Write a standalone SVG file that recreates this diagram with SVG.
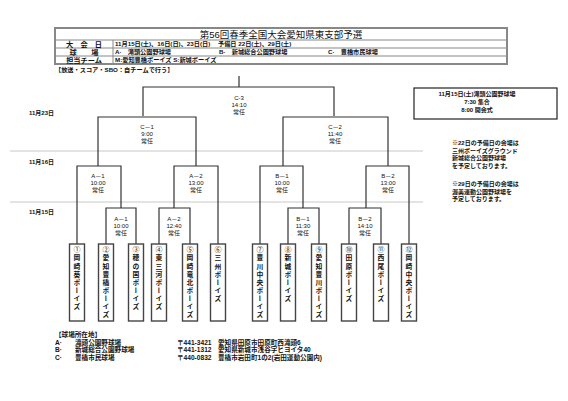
<svg xmlns="http://www.w3.org/2000/svg" width="568" height="401" viewBox="0 0 568 401">
<style>
text{font-family:"Liberation Sans","Noto Sans CJK JP",sans-serif;fill:#111}
.t{font-size:9.5px}
.lab{font-size:7.2px;font-weight:bold;text-anchor:middle}
.row{font-size:6.2px;font-weight:bold}
.s{font-size:6px}
.sb{font-size:6px;font-weight:bold}
.m{text-anchor:middle}
.b{font-size:6px;text-anchor:middle}
.num{font-size:7px;text-anchor:middle}
.v{font-family:"Noto Sans CJK JP",sans-serif;font-size:6.8px;font-weight:bold;writing-mode:vertical-rl;letter-spacing:1.3px}
.ln{fill:none;stroke:#333;stroke-width:1.2}
.sep{stroke:#c8c8c8;stroke-width:1}
.tb{fill:#fff;stroke:#444;stroke-width:1.4}
.bot{font-size:6.6px;font-weight:bold}
</style>
<rect width="568" height="401" fill="#fff"/>

<g id="header">
<rect x="55" y="28" width="452" height="36" fill="none" stroke="#888" stroke-width="2"/>
<line x1="55" y1="40" x2="507" y2="40" stroke="#888" stroke-width="1"/>
<line x1="55" y1="48" x2="507" y2="48" stroke="#888" stroke-width="1"/>
<line x1="55" y1="56" x2="507" y2="56" stroke="#888" stroke-width="1"/>
<line x1="113" y1="40" x2="113" y2="64" stroke="#888" stroke-width="1"/>
<text class="t m" x="281" y="37.5">第56回春季全国大会愛知県東支部予選</text>
<text class="lab" x="84" y="46.7">大　会　日</text>
<text class="lab" x="84" y="54.7">球　　場</text>
<text class="lab" x="84" y="62.7">担当チーム</text>
<text class="row" x="115" y="46.4">11月15日(土)、16日(日)、23日(日)</text>
<text class="row" x="218" y="46.4">予備日  22日(土)、29日(土)</text>
<text class="row" x="115" y="54.4">A·　滝頭公園野球場</text>
<text class="row" x="219" y="54.4">B·　新城総合公園野球場</text>
<text class="row" x="328" y="54.4">C·　豊橋市民球場</text>
<text class="row" x="115" y="62.4">M:愛知豊橋ボーイズ  S:新城ボーイズ</text>
<text class="row" x="55" y="71.5">【放送・スコア・SBO：自チームで行う】</text>
</g>

<g id="dates">
<text class="sb" x="29" y="115">11月23日</text>
<text class="sb" x="29" y="164">11月16日</text>
<text class="sb" x="29" y="214">11月15日</text>
<line class="sep" x1="10" y1="151" x2="423" y2="151"/>
<line class="sep" x1="10" y1="202" x2="423" y2="202"/>
</g>

<g id="info">
<rect x="414" y="88" width="143" height="31" fill="none" stroke="#222" stroke-width="1.2"/>
<text class="sb m" x="477" y="95.5">11月15日(土)滝頭公園野球場</text>
<text class="sb m" x="477" y="103.5">7:30  集合</text>
<text class="sb m" x="477" y="111.5">8:00  開会式</text>
<text class="sb" x="452" y="145">※22日の予備日の会場は</text>
<text class="sb" x="452" y="152.5">三州ボーイズグラウンド</text>
<text class="sb" x="452" y="160">新城総合公園野球場</text>
<text class="sb" x="452" y="167.5">を予定しております。</text>
<text class="sb" x="452" y="186">※29日の予備日の会場は</text>
<text class="sb" x="452" y="193.5">渥美運動公園野球場を</text>
<text class="sb" x="452" y="201">予定しております。</text>
</g>

<g id="connectors">
<path class="ln" d="M239 76V87M143 116V87H334V116"/>
<path class="ln" d="M98 166V117H196V166"/>
<path class="ln" d="M283 166V117H388V166"/>
<path class="ln" d="M77 244V166H121V208"/>
<path class="ln" d="M106 244V208H136V244"/>
<path class="ln" d="M218 244V166H174V208"/>
<path class="ln" d="M159 244V208H190V244"/>
<path class="ln" d="M260 244V166H303V208"/>
<path class="ln" d="M288 244V208H319V244"/>
<path class="ln" d="M409 244V166H366V208"/>
<path class="ln" d="M349 244V208H381V244"/>
</g>

<g id="match-C3"><text class="b" x="239" y="100">C-3</text><text class="b" x="239" y="107">14:10</text><text class="b" x="239" y="114">常任</text></g>
<g id="match-C1"><text class="b" x="147" y="129">C－1</text><text class="b" x="147" y="136">9:00</text><text class="b" x="147" y="143">常任</text></g>
<g id="match-C2"><text class="b" x="335" y="129">C－2</text><text class="b" x="335" y="136">11:40</text><text class="b" x="335" y="143">常任</text></g>
<g id="match-A1u"><text class="b" x="98" y="178">A－1</text><text class="b" x="98" y="185">10:00</text><text class="b" x="98" y="192">常任</text></g>
<g id="match-A2u"><text class="b" x="196" y="178">A－2</text><text class="b" x="196" y="185">13:00</text><text class="b" x="196" y="192">常任</text></g>
<g id="match-B1u"><text class="b" x="282" y="178">B－1</text><text class="b" x="282" y="185">10:00</text><text class="b" x="282" y="192">常任</text></g>
<g id="match-B2u"><text class="b" x="388" y="178">B－2</text><text class="b" x="388" y="185">13:00</text><text class="b" x="388" y="192">常任</text></g>
<g id="match-A1l"><text class="b" x="121" y="221">A－1</text><text class="b" x="121" y="228">10:00</text><text class="b" x="121" y="235">常任</text></g>
<g id="match-A2l"><text class="b" x="174" y="221">A－2</text><text class="b" x="174" y="228">12:40</text><text class="b" x="174" y="235">常任</text></g>
<g id="match-B1l"><text class="b" x="303" y="221">B－1</text><text class="b" x="303" y="228">11:30</text><text class="b" x="303" y="235">常任</text></g>
<g id="match-B2l"><text class="b" x="365" y="221">B－2</text><text class="b" x="365" y="228">14:10</text><text class="b" x="365" y="235">常任</text></g>

<g id="team1"><rect class="tb" x="69.5" y="244" width="15" height="77"/><text class="num" x="77" y="251.5">①</text><text class="v" x="77" y="254.5">岡崎葵ボーイズ</text></g>
<g id="team2"><rect class="tb" x="98.5" y="244" width="15" height="77"/><text class="num" x="106" y="251.5">②</text><text class="v" x="106" y="254.5">愛知豊橋ボーイズ</text></g>
<g id="team3"><rect class="tb" x="128.5" y="244" width="15" height="77"/><text class="num" x="136" y="251.5">③</text><text class="v" x="136" y="254.5">穂の国ボーイズ</text></g>
<g id="team4"><rect class="tb" x="151.5" y="244" width="15" height="77"/><text class="num" x="159" y="251.5">④</text><text class="v" x="159" y="254.5">東三河ボーイズ</text></g>
<g id="team5"><rect class="tb" x="182.5" y="244" width="15" height="77"/><text class="num" x="190" y="251.5">⑤</text><text class="v" x="190" y="254.5">岡崎竜北ボーイズ</text></g>
<g id="team6"><rect class="tb" x="210.5" y="244" width="15" height="77"/><text class="num" x="218" y="251.5">⑥</text><text class="v" x="218" y="254.5">三州ボーイズ</text></g>
<g id="team7"><rect class="tb" x="252.5" y="244" width="15" height="77"/><text class="num" x="260" y="251.5">⑦</text><text class="v" x="260" y="254.5">豊川中央ボーイズ</text></g>
<g id="team8"><rect class="tb" x="280.5" y="244" width="15" height="77"/><text class="num" x="288" y="251.5">⑧</text><text class="v" x="288" y="254.5">新城ボーイズ</text></g>
<g id="team9"><rect class="tb" x="311.5" y="244" width="15" height="77"/><text class="num" x="319" y="251.5">⑨</text><text class="v" x="319" y="254.5">愛知豊川ボーイズ</text></g>
<g id="team10"><rect class="tb" x="341.5" y="244" width="15" height="77"/><text class="num" x="349" y="251.5">⑩</text><text class="v" x="349" y="254.5">田原ボーイズ</text></g>
<g id="team11"><rect class="tb" x="373.5" y="244" width="15" height="77"/><text class="num" x="381" y="251.5">⑪</text><text class="v" x="381" y="254.5">西尾ボーイズ</text></g>
<g id="team12"><rect class="tb" x="401.5" y="244" width="15" height="77"/><text class="num" x="409" y="251.5">⑫</text><text class="v" x="409" y="254.5">岡崎中央ボーイズ</text></g>

<g id="venues">
<text class="bot" x="55" y="337">【球場所在地】</text>
<text class="bot" x="55" y="344.5">A·</text><text class="bot" x="75" y="344.5">滝頭公園野球場</text>
<text class="bot" x="55" y="352">B·</text><text class="bot" x="75" y="352">新城総合公園野球場</text>
<text class="bot" x="55" y="359.5">C·</text><text class="bot" x="75" y="359.5">豊橋市民球場</text>
<text class="bot" x="177" y="344.5">〒441-3421</text><text class="bot" x="218" y="344.5">愛知県田原市田原町西滝頭6</text>
<text class="bot" x="177" y="352">〒441-1312</text><text class="bot" x="218" y="352">愛知県新城市浅谷字ヒヨイタ40</text>
<text class="bot" x="177" y="359.5">〒440-0832</text><text class="bot" x="218" y="359.5">豊橋市岩田町1の2(岩田運動公園内)</text>
</g>
</svg>
